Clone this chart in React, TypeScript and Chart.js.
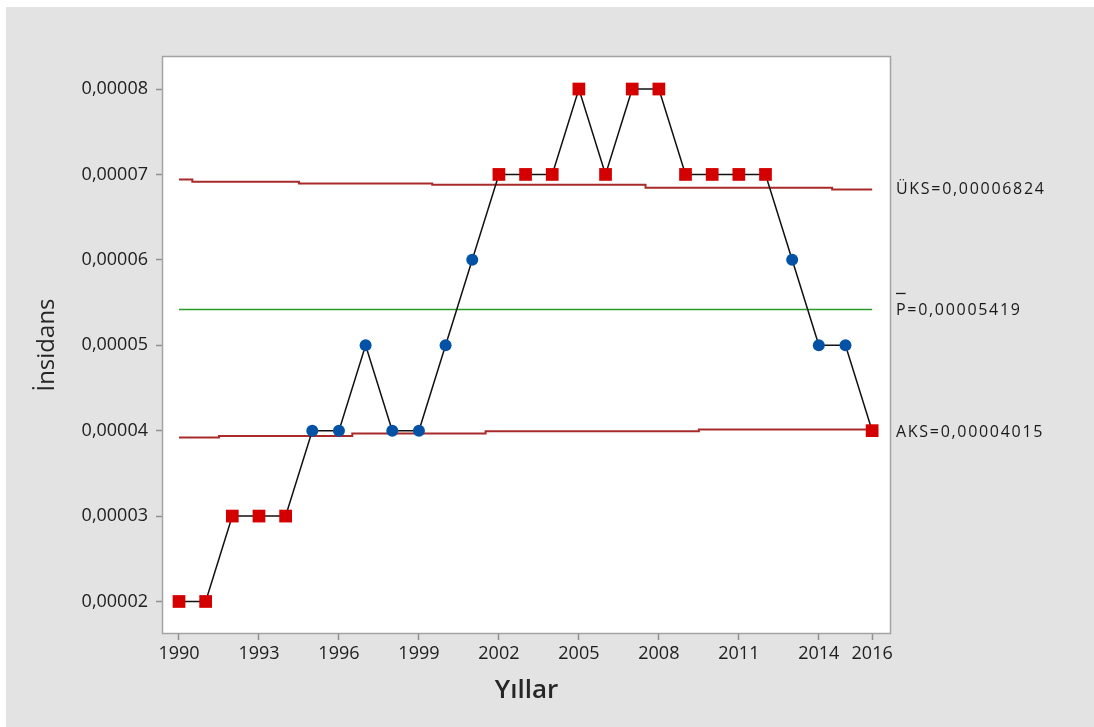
import React, { useEffect, useRef } from 'react';
import { Chart, registerables } from 'chart.js';

Chart.register(...registerables);

const years = [
  1990, 1991, 1992, 1993, 1994, 1995, 1996, 1997, 1998, 1999,
  2000, 2001, 2002, 2003, 2004, 2005, 2006, 2007, 2008, 2009,
  2010, 2011, 2012, 2013, 2014, 2015, 2016,
];

const incidence = [
  0.00002, 0.00002, 0.00003, 0.00003, 0.00003, 0.00004, 0.00004, 0.00005, 0.00004, 0.00004,
  0.00005, 0.00006, 0.00007, 0.00007, 0.00007, 0.00008, 0.00007, 0.00008, 0.00008, 0.00007,
  0.00007, 0.00007, 0.00007, 0.00006, 0.00005, 0.00005, 0.00004,
];

// Upper control limit (ÜKS) per year
const ucl = [
  0.00006941,
  0.00006914, 0.00006914, 0.00006914, 0.00006914,
  0.00006894, 0.00006894, 0.00006894, 0.00006894, 0.00006894,
  0.00006879, 0.00006879, 0.00006879, 0.00006879, 0.00006879, 0.00006879, 0.00006879, 0.00006879,
  0.00006844, 0.00006844, 0.00006844, 0.00006844, 0.00006844, 0.00006844, 0.00006844,
  0.00006824, 0.00006824,
];

// Lower control limit (AKS) per year
const lcl = [
  0.00003921, 0.00003921,
  0.00003937, 0.00003937, 0.00003937, 0.00003937, 0.00003937,
  0.00003968, 0.00003968, 0.00003968, 0.00003968, 0.00003968,
  0.00003992, 0.00003992, 0.00003992, 0.00003992, 0.00003992, 0.00003992, 0.00003992, 0.00003992,
  0.00004015, 0.00004015, 0.00004015, 0.00004015, 0.00004015, 0.00004015, 0.00004015,
];

const centerValue = 0.00005419;

const xTicks = [1990, 1993, 1996, 1999, 2002, 2005, 2008, 2011, 2014, 2016];
const yTicks = [0.00002, 0.00003, 0.00004, 0.00005, 0.00006, 0.00007, 0.00008];

const uclLabel = 'ÜKS=0,00006824';
const centerLabel = 'P=0,00005419';
const lclLabel = 'AKS=0,00004015';

const xTitle = 'Yıllar';
const yTitle = 'İnsidans';

const RED = '#d40000';
const BLUE = '#0452a6';
const LIMIT = '#a82a2a';
const CENTER = '#2a9a2a';

const isOut = (i: number) => incidence[i] > ucl[i] || incidence[i] < lcl[i];

const framePlugin = {
  id: 'frame',
  beforeDraw(chart: any) {
    const { ctx, chartArea } = chart;
    const { left, top, right, bottom } = chartArea;
    ctx.save();
    ctx.fillStyle = '#ffffff';
    ctx.fillRect(left, top, right - left, bottom - top);
    ctx.restore();
  },
  afterDraw(chart: any) {
    const { ctx, chartArea, scales } = chart;
    const { left, top, right, bottom } = chartArea;
    ctx.save();
    ctx.strokeStyle = '#a3a3a3';
    ctx.lineWidth = 1.5;
    ctx.strokeRect(left - 0.5, top - 0.5, right - left + 1, bottom - top + 1);

    const y = scales.y;
    const tx = right + 6;
    ctx.font = '16px "Open Sans", sans-serif';
    ctx.fillStyle = '#1a1a1a';
    ctx.textBaseline = 'middle';
    ctx.textAlign = 'left';
    try { (ctx as any).letterSpacing = '1.7px'; } catch (e) {}
    const last = years.length - 1;
    const yU = y.getPixelForValue(ucl[last]);
    const yC = y.getPixelForValue(centerValue);
    const yL = y.getPixelForValue(lcl[last]);
    ctx.fillText(uclLabel, tx, yU);
    ctx.fillText(centerLabel, tx, yC + 1);
    ctx.fillText(lclLabel, tx, yL + 3);
    // bar over P
    try { (ctx as any).letterSpacing = '0px'; } catch (e) {}
    const pw = ctx.measureText('P').width;
    ctx.strokeStyle = '#1a1a1a';
    ctx.lineWidth = 1.3;
    ctx.beginPath();
    ctx.moveTo(tx, yC - 16);
    ctx.lineTo(tx + pw, yC - 16);
    ctx.stroke();
    ctx.restore();
  },
};

export default function App() {
  const canvasRef = useRef<HTMLCanvasElement | null>(null);

  useEffect(() => {
    if (!canvasRef.current) return;
    const tickFont = { family: '"Open Sans", sans-serif', size: 18 };
    const chart = new Chart(canvasRef.current, {
      type: 'line',
      data: {
        datasets: [
          {
            label: 'İnsidans',
            data: years.map((x, i) => ({ x, y: incidence[i] })),
            borderColor: '#111111',
            borderWidth: 1.5,
            pointStyle: (c: any) => (isOut(c.dataIndex) ? 'rect' : 'circle'),
            pointRadius: (c: any) => (isOut(c.dataIndex) ? 9 : 6),
            pointBackgroundColor: (c: any) => (isOut(c.dataIndex) ? RED : BLUE),
            pointBorderColor: (c: any) => (isOut(c.dataIndex) ? RED : BLUE),
            pointBorderWidth: 0,
            order: 0,
          },
          {
            label: 'ÜKS',
            data: years.map((x, i) => ({ x, y: ucl[i] })),
            borderColor: LIMIT,
            borderWidth: 2,
            stepped: 'middle',
            pointRadius: 0,
            order: 1,
          },
          {
            label: 'AKS',
            data: years.map((x, i) => ({ x, y: lcl[i] })),
            borderColor: LIMIT,
            borderWidth: 2,
            stepped: 'middle',
            pointRadius: 0,
            order: 1,
          },
          {
            label: 'P',
            data: [
              { x: years[0], y: centerValue },
              { x: years[years.length - 1], y: centerValue },
            ],
            borderColor: CENTER,
            borderWidth: 1.5,
            pointRadius: 0,
            order: 1,
          },
        ],
      },
      options: {
        animation: false,
        responsive: false,
        maintainAspectRatio: false,
        layout: { padding: { left: 0, top: 57, right: 204, bottom: 0 } },
        plugins: {
          legend: { display: false },
          tooltip: { enabled: false },
          title: { display: false },
        },
        scales: {
          x: {
            type: 'linear',
            min: 1989.4,
            max: 2016.67,
            afterBuildTicks: (s: any) => {
              s.ticks = xTicks.map((v) => ({ value: v }));
            },
            afterFit: (s: any) => {
              s.height = 94;
            },
            grid: {
              display: true,
              drawOnChartArea: false,
              drawTicks: true,
              tickLength: 7,
              tickColor: '#8f8f8f',
              tickWidth: 1.5,
            },
            border: { display: false },
            ticks: {
              autoSkip: false,
              maxRotation: 0,
              padding: 3,
              color: '#202020',
              font: tickFont,
              callback: (v: any) => String(v),
            },
            title: {
              display: true,
              text: xTitle,
              color: '#262626',
              font: { family: '"Open Sans", sans-serif', size: 26, weight: '600' },
              padding: { top: 0, bottom: 21 },
            },
          },
          y: {
            type: 'linear',
            min: 0.00001631,
            max: 0.00008375,
            afterBuildTicks: (s: any) => {
              s.ticks = yTicks.map((v) => ({ value: v }));
            },
            afterFit: (s: any) => {
              s.width = 163;
            },
            grid: {
              display: true,
              drawOnChartArea: false,
              drawTicks: true,
              tickLength: 7,
              tickColor: '#8f8f8f',
              tickWidth: 1.5,
            },
            border: { display: false },
            ticks: {
              autoSkip: false,
              padding: 8,
              color: '#202020',
              font: tickFont,
              callback: (v: any) => Number(v).toFixed(5).replace('.', ','),
            },
            title: {
              display: true,
              text: yTitle,
              color: '#262626',
              font: { family: '"Open Sans", sans-serif', size: 24, weight: '400' },
              padding: { top: 33, bottom: 0 },
            },
          },
        },
      },
      plugins: [framePlugin],
    } as any);
    return () => chart.destroy();
  }, []);

  return (
    <div style={{ position: 'fixed', left: 0, top: 0, width: 1094, height: 727, background: '#ffffff', overflow: 'hidden' }}>
      <div style={{ position: 'absolute', left: 6, top: 7, right: 0, bottom: 0, background: '#e3e3e3' }} />
      <canvas ref={canvasRef} width={1094} height={727} style={{ position: 'absolute', left: 0, top: 0, width: 1094, height: 727 }} />
    </div>
  );
}
